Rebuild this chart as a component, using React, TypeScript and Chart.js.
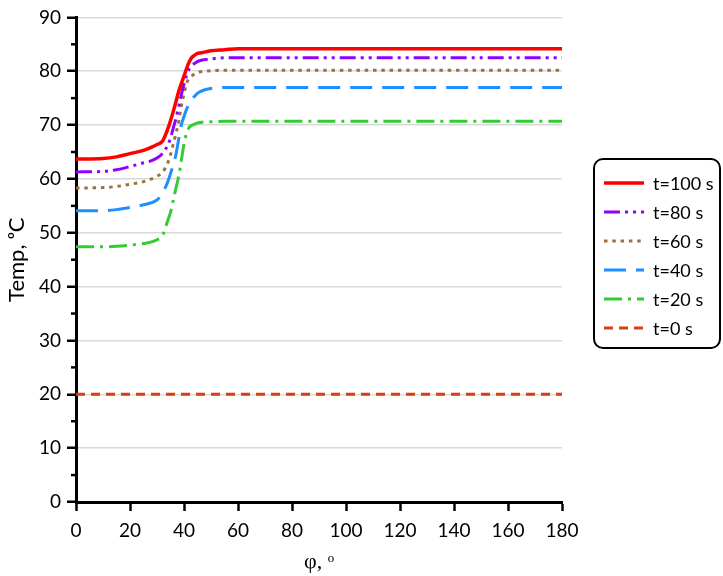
import { useEffect, useRef } from "react";
import { Chart, registerables } from "chart.js";

Chart.register(...registerables);

// angle, degrees
const phi = [
  0, 10, 15, 20, 25, 28, 30, 32, 34, 35, 36, 37, 38, 39, 40, 41, 42, 43, 44, 45,
  46, 48, 50, 55, 60, 80, 100, 120, 140, 160, 180,
];

// temperatures, one array per time step
const t100 = [
  63.7, 63.8, 64.1, 64.7, 65.3, 65.9, 66.4, 67.0, 69.3, 70.8, 72.5, 74.3, 76.2,
  77.7, 79.1, 80.6, 81.8, 82.6, 83.0, 83.3, 83.4, 83.6, 83.8, 84.0, 84.2, 84.2,
  84.2, 84.2, 84.2, 84.2, 84.2,
];
const t80 = [
  61.3, 61.4, 61.7, 62.3, 63.0, 63.4, 63.9, 64.7, 66.3, 67.6, 69.4, 71.2, 73.4,
  75.6, 77.6, 79.3, 80.5, 81.1, 81.5, 81.8, 82.0, 82.2, 82.3, 82.5, 82.5, 82.5,
  82.5, 82.5, 82.5, 82.5, 82.5,
];
const t60 = [
  58.3, 58.4, 58.6, 59.0, 59.5, 60.0, 60.5, 61.2, 63.0, 64.5, 66.4, 68.4, 70.6,
  73.5, 75.8, 77.8, 78.7, 79.2, 79.5, 79.7, 79.9, 80.0, 80.1, 80.2, 80.2, 80.2,
  80.2, 80.2, 80.2, 80.2, 80.2,
];
const t40 = [
  54.1, 54.1, 54.3, 54.7, 55.2, 55.6, 56.1, 57.3, 59.5, 61.0, 62.6, 64.5, 67.3,
  70.0, 71.6, 73.0, 74.0, 74.8, 75.4, 75.9, 76.2, 76.6, 76.8, 77.0, 77.0, 77.0,
  77.0, 77.0, 77.0, 77.0, 77.0,
];
const t20 = [
  47.4, 47.4, 47.5, 47.7, 48.0, 48.3, 48.7, 49.5, 52.3, 53.8, 56.0, 58.3, 60.4,
  63.4, 66.5, 68.6, 69.6, 70.0, 70.2, 70.4, 70.5, 70.6, 70.6, 70.7, 70.7, 70.7,
  70.7, 70.7, 70.7, 70.7, 70.7,
];
const t0 = [
  20, 20, 20, 20, 20, 20, 20, 20, 20, 20, 20, 20, 20, 20, 20, 20, 20, 20, 20, 20,
  20, 20, 20, 20, 20, 20, 20, 20, 20, 20, 20,
];

const seriesLabels = ["t=100 s", "t=80 s", "t=60 s", "t=40 s", "t=20 s", "t=0 s"];
const seriesValues = [t100, t80, t60, t40, t20, t0];
const seriesColors = ["#ff0000", "#8f00ff", "#a0703c", "#1e8fff", "#33cc33", "#d9400f"];
const seriesDash = [
  [],
  [16, 5, 3, 5, 3, 5],
  [3.5, 4.8],
  [22, 10],
  [18, 6, 3, 6],
  [9, 6],
];
const seriesWidth = [3.5, 3, 3, 3, 3, 3];

const FONT = "Lato, 'Open Sans', sans-serif";

// small 5-unit ticks on the y axis
const minorTicks = {
  id: "minorTicks",
  afterDraw(chart: any) {
    const y = chart.scales.y;
    const ctx = chart.ctx;
    ctx.save();
    ctx.strokeStyle = "#000";
    ctx.lineWidth = 2.5;
    for (let v = 5; v < 90; v += 10) {
      const py = y.getPixelForValue(v);
      ctx.beginPath();
      ctx.moveTo(chart.chartArea.left - 5, py);
      ctx.lineTo(chart.chartArea.left, py);
      ctx.stroke();
    }
    ctx.restore();
  },
};

function App() {
  const canvasRef = useRef<HTMLCanvasElement | null>(null);
  const chartRef = useRef<Chart | null>(null);

  useEffect(() => {
    if (!canvasRef.current) return;
    chartRef.current?.destroy();

    chartRef.current = new Chart(canvasRef.current, {
      type: "line",
      data: {
        datasets: seriesLabels.map((label, i) => ({
          label,
          data: phi.map((x, j) => ({ x, y: seriesValues[i][j] })),
          borderColor: seriesColors[i],
          borderWidth: seriesWidth[i],
          borderDash: seriesDash[i],
          pointRadius: 0,
          fill: false,
          cubicInterpolationMode: "monotone" as const,
        })),
      },
      options: {
        animation: false,
        responsive: true,
        maintainAspectRatio: false,
        layout: { padding: { top: 13, right: 161, left: 0, bottom: 0 } },
        plugins: {
          legend: { display: false },
          tooltip: { enabled: false },
        },
        scales: {
          x: {
            type: "linear",
            min: 0,
            max: 180,
            afterFit: (scale: any) => {
              scale.height = 74;
            },
            border: { color: "#000", width: 3 },
            grid: {
              color: "transparent",
              tickColor: "#000",
              tickLength: 9,
              tickWidth: 2.5,
            },
            ticks: {
              stepSize: 20,
              color: "#000",
              padding: 8,
              maxRotation: 0,
              font: { family: FONT, size: 19 },
            },
            title: {
              display: true,
              text: "φ, ᵒ",
              color: "#000",
              padding: { top: 0, bottom: 1 },
              font: { family: "'Liberation Serif', serif", size: 22 },
            },
          },
          y: {
            min: 0,
            max: 90,
            afterFit: (scale: any) => {
              scale.width = 76;
            },
            border: { color: "#000", width: 3 },
            grid: {
              color: (ctx: any) =>
                ctx.tick && ctx.tick.value > 0 ? "#d9d9d9" : "transparent",
              lineWidth: 1.5,
              tickColor: "#000",
              tickLength: 9,
              tickWidth: 2.5,
            },
            ticks: {
              stepSize: 10,
              color: "#000",
              padding: 6,
              font: { family: FONT, size: 19 },
            },
            title: {
              display: true,
              text: "Temp, ᵒC",
              color: "#000",
              padding: { top: 4, bottom: 0 },
              font: { family: FONT, size: 22 },
            },
          },
        },
      },
      plugins: [minorTicks],
    });

    return () => {
      chartRef.current?.destroy();
      chartRef.current = null;
    };
  }, []);

  return (
    <div
      style={{
        position: "absolute",
        left: 0,
        top: 0,
        width: 723,
        height: 576,
        background: "#fff",
      }}
    >
      <canvas ref={canvasRef} />
      <div
        style={{
          position: "absolute",
          left: 593,
          top: 158,
          width: 128,
          height: 191,
          boxSizing: "border-box",
          border: "2px solid #000",
          borderRadius: 10,
          paddingTop: 9,
          fontFamily: FONT,
          fontSize: 18,
          color: "#000",
        }}
      >
        {seriesLabels.map((label, i) => (
          <div
            key={label}
            style={{
              display: "flex",
              alignItems: "center",
              height: 28.9,
              paddingLeft: 9,
            }}
          >
            <svg width={40} height={10} style={{ marginRight: 9 }}>
              <line
                x1={0}
                y1={5}
                x2={40}
                y2={5}
                stroke={seriesColors[i]}
                strokeWidth={seriesWidth[i]}
                strokeDasharray={seriesDash[i].join(" ")}
              />
            </svg>
            <span>{label}</span>
          </div>
        ))}
      </div>
    </div>
  );
}

export default App;
